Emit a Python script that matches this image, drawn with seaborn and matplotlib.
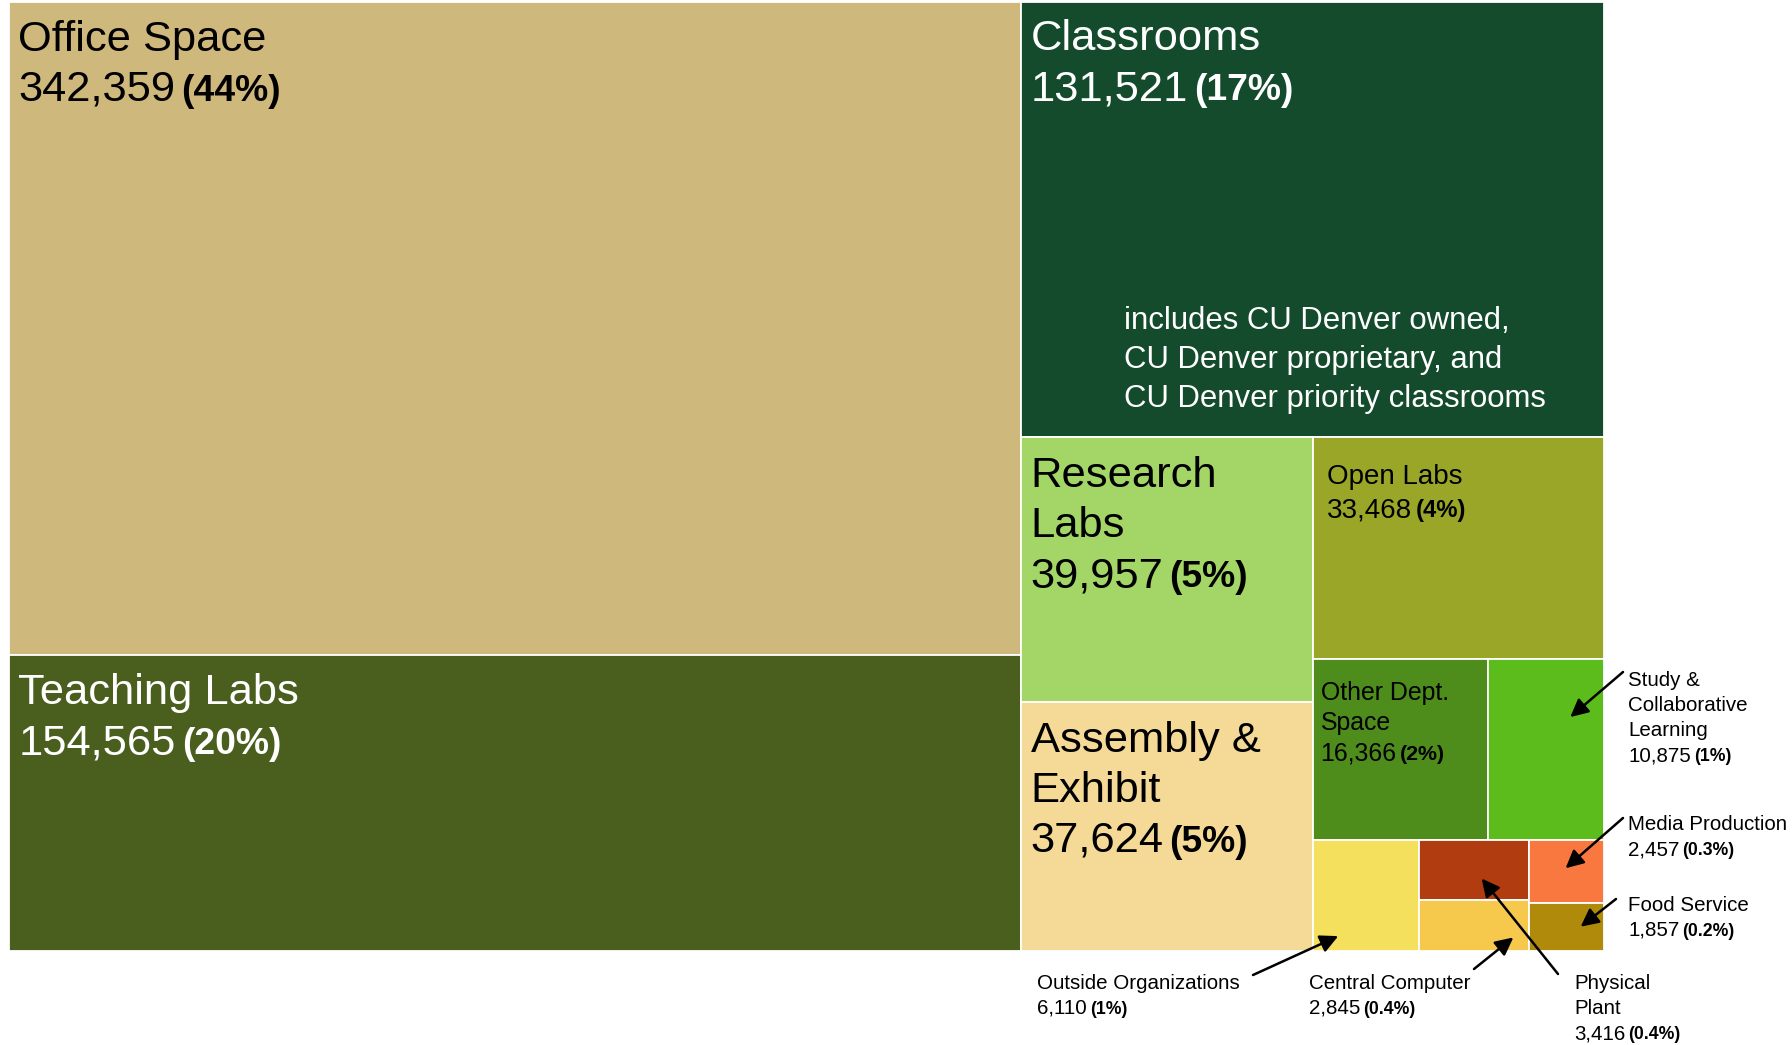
import matplotlib
matplotlib.use("Agg")
import matplotlib.pyplot as plt
from matplotlib import font_manager as fm
import seaborn as sns

# ---- data: assignable square feet by space type ----
categories = ["Office Space", "Teaching Labs", "Classrooms", "Research Labs",
              "Assembly & Exhibit", "Open Labs", "Other Dept. Space",
              "Study & Collaborative Learning", "Outside Organizations",
              "Physical Plant", "Central Computer", "Media Production",
              "Food Service"]
square_feet = [342359, 154565, 131521, 39957, 37624, 33468, 16366, 10875,
               6110, 3416, 2845, 2457, 1857]
display_names = ["Office Space", "Teaching Labs", "Classrooms", "Research\nLabs",
                 "Assembly &\nExhibit", "Open Labs", "Other Dept.\nSpace",
                 "Study &\nCollaborative\nLearning", "Outside Organizations",
                 "Physical\nPlant", "Central Computer", "Media Production",
                 "Food Service"]
tile_colors = ["#CFB87C", "#4A5E1D", "#134B2C", "#A3D567", "#F4D997",
               "#99A627", "#4E8C1C", "#5CBC1C", "#F4E05C", "#B03C10",
               "#F6C84C", "#F87840", "#B08A0A"]
classroom_note = ["includes CU Denver owned,", "CU Denver proprietary, and",
                  "CU Denver priority classrooms"]

sns.set_theme(style="white")
plt.rcParams["font.family"] = ["Liberation Sans", "DejaVu Sans"]

# bold percentages use a narrow face when one is installed
_installed = {f.name for f in fm.fontManager.ttflist}
if "Liberation Sans Narrow" in _installed:
    PCT_FAMILY, PCT_SCALE = ["Liberation Sans Narrow", "DejaVu Sans"], 1.0
else:
    PCT_FAMILY, PCT_SCALE = ["Liberation Sans", "DejaVu Sans"], 0.86

values = dict(zip(categories, square_feet))
colors = dict(zip(categories, tile_colors))
names = dict(zip(categories, display_names))
total = sum(square_feet)


def pct_label(v):
    p = v / total * 100
    return f"({round(p)}%)" if round(p) >= 1 else f"({p:.1f}%)"


# ---- strip treemap layout (y grows downward) ----
strips = [(["Office Space", "Teaching Labs"], "col"),
          (["Classrooms"], "row"),
          (["Research Labs", "Assembly & Exhibit"], "col"),
          (["Open Labs"], "row"),
          (["Other Dept. Space", "Study & Collaborative Learning"], "row"),
          (["Outside Organizations"], "col"),
          (["Physical Plant", "Central Computer"], "col"),
          (["Media Production", "Food Service"], "col")]


def strip_layout():
    x, y, w, h = 0.0, 0.0, 1.0, 1.0
    remaining = float(total)
    rects = {}
    for group, orient in strips:
        vals = [values[n] for n in group]
        s = sum(vals)
        if orient == "col":
            sw = w * s / remaining
            yy = y
            for n, v in zip(group, vals):
                hh = h * v / s
                rects[n] = (x, yy, sw, hh)
                yy += hh
            x += sw
            w -= sw
        else:
            sh = h * s / remaining
            xx = x
            for n, v in zip(group, vals):
                ww = w * v / s
                rects[n] = (xx, y, ww, sh)
                xx += ww
            y += sh
            h -= sh
        remaining -= s
    return rects


rects = strip_layout()

W, H = 1792, 1045
fig = plt.figure(figsize=(W / 100, H / 100), dpi=100)
fig.patch.set_facecolor("white")
ax = fig.add_axes([8.5 / W, 1 - 950.5 / H, 1595.5 / W, 948.5 / H])
ax.set_xlim(0, 1)
ax.set_ylim(1, 0)
ax.axis("off")

ax.bar([rects[c][0] for c in categories],
       [rects[c][3] for c in categories],
       width=[rects[c][2] for c in categories],
       bottom=[rects[c][1] for c in categories],
       align="edge", color=[colors[c] for c in categories],
       edgecolor="white", linewidth=1.3)

# ---- labels inside tiles: (text colour, font pt, left pad px, first baseline px, line step px)
BIG = 31.3
inside = {
    "Office Space": ("black", BIG, 10, 49, 50),
    "Teaching Labs": ("white", BIG, 10, 49, 50),
    "Classrooms": ("white", BIG, 10, 48, 50),
    "Research Labs": ("black", BIG, 10, 50, 50),
    "Assembly & Exhibit": ("black", BIG, 10, 50, 50),
    "Open Labs": ("black", 20, 14, 47, 33),
    "Other Dept. Space": ("black", 17.9, 8, 41, 30),
}

pending = []  # (regular text artist, percent string, colour, size, baseline y px)
for cat, (col, size, pad, first, step) in inside.items():
    rx, ry, rw, rh = rects[cat]
    lines = names[cat].split("\n")
    x0, y0 = ax.transData.transform((rx, ry))
    for i, ln in enumerate(lines):
        ax.annotate(ln, xy=(rx, ry), xycoords="data",
                    xytext=(pad, -(first + i * step)), textcoords="offset pixels",
                    ha="left", va="baseline", color=col, fontsize=size)
    k = len(lines)
    t = ax.annotate(f"{values[cat]:,}", xy=(rx, ry), xycoords="data",
                    xytext=(pad, -(first + k * step)), textcoords="offset pixels",
                    ha="left", va="baseline", color=col, fontsize=size)
    pending.append((t, pct_label(values[cat]), col, size, y0 - (first + k * step)))

# note inside the classrooms tile
rx, ry, rw, rh = rects["Classrooms"]
for i, ln in enumerate(classroom_note):
    ax.annotate(ln, xy=(rx, ry), xycoords="data",
                xytext=(103, -(327 + i * 39)), textcoords="offset pixels",
                ha="left", va="baseline", color="white", fontsize=22.4)

# ---- call-out labels for the small tiles ----
# (category, text x px, first baseline px from top, arrow tail px, arrow tip as fraction of tile)
callouts = [
    ("Study & Collaborative Learning", 1628, 686, (1623, 672), (0.71, 0.32)),
    ("Media Production", 1628, 830, (1623, 818), (0.49, 0.45)),
    ("Food Service", 1628, 911, (1616, 899), (0.69, 0.50)),
    ("Outside Organizations", 1037, 989, (1253, 975), (0.24, 0.87)),
    ("Central Computer", 1309, 989, (1474, 969), (0.86, 0.74)),
    ("Physical Plant", 1574, 989, (1558, 974), (0.57, 0.64)),
]
SMALL = 14.8
step = 25
for cat, tx, ty, tail, frac in callouts:
    lines = names[cat].split("\n")
    for i, ln in enumerate(lines):
        fig.text(tx / W, 1 - (ty + i * step) / H, ln, ha="left", va="baseline",
                 color="black", fontsize=SMALL)
    k = len(lines)
    base_y = H - (ty + k * step)
    t = fig.text(tx / W, base_y / H, f"{values[cat]:,}", ha="left",
                 va="baseline", color="black", fontsize=SMALL)
    pending.append((t, pct_label(values[cat]), "black", SMALL, base_y))
    rx, ry, rw, rh = rects[cat]
    ax.annotate("", xy=(rx + frac[0] * rw, ry + frac[1] * rh), xycoords="data",
                xytext=(tail[0], H - tail[1]), textcoords="figure pixels",
                arrowprops=dict(arrowstyle="-|>,head_length=0.6,head_width=0.3",
                                mutation_scale=18, lw=1.8, color="black",
                                shrinkA=0, shrinkB=0),
                annotation_clip=False)

# bold percentages placed right after the regular value text
fig.canvas.draw()
renderer = fig.canvas.get_renderer()
for t, pct, col, size, base_y in pending:
    bb = t.get_window_extent(renderer)
    gap = size / 0.72 * 0.14
    ax.annotate(pct, xy=(bb.x1 + gap, base_y), xycoords="figure pixels",
                ha="left", va="baseline", color=col, fontsize=size * PCT_SCALE,
                fontweight="bold", family=PCT_FAMILY, annotation_clip=False)

fig.savefig("out.png", dpi=100, facecolor="white")
